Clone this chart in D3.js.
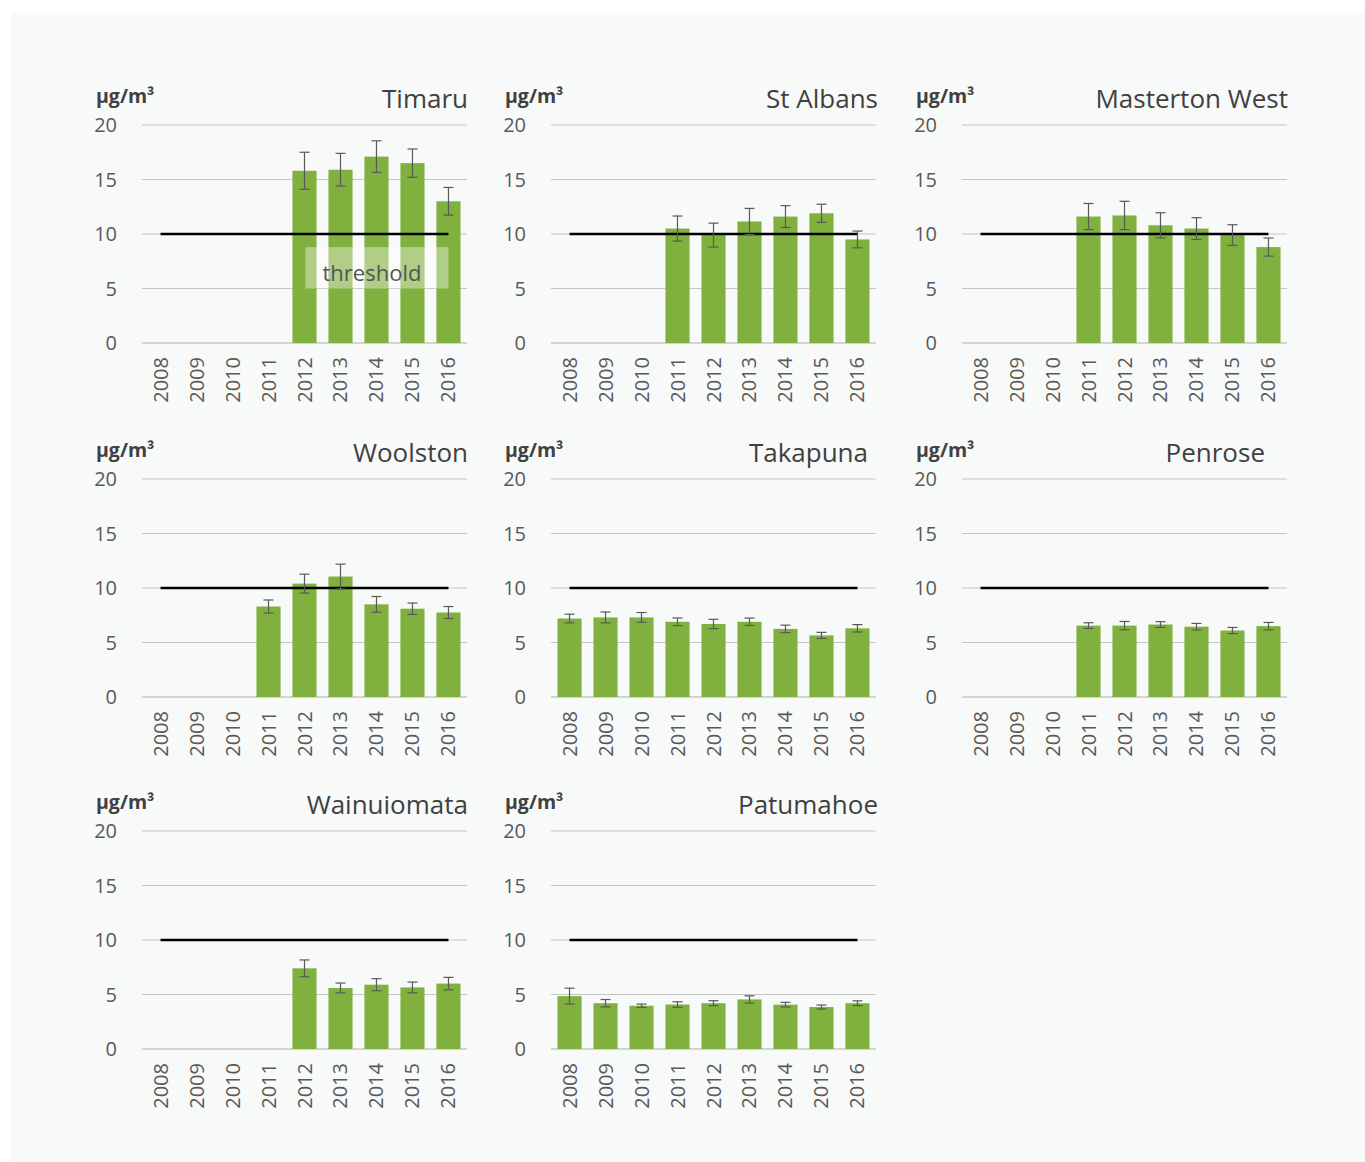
<!DOCTYPE html>
<html>
<head>
<meta charset="utf-8">
<script src="https://cdn.jsdelivr.net/npm/d3@7"></script>
<style>
  html, body { margin: 0; padding: 0; background: #ffffff; }
  svg { display: block; }
  text { font-family: "Open Sans", "Noto Sans", sans-serif; }
</style>
</head>
<body>
<svg id="chart" width="1365" height="1162"></svg>
<script>
// ---- Data ----
const years = ["2008","2009","2010","2011","2012","2013","2014","2015","2016"];
const stations = ["Timaru","St Albans","Masterton West","Woolston","Takapuna","Penrose","Wainuiomata","Patumahoe"];
const yTicks = [0, 5, 10, 15, 20];
const threshold = 10;
const unitLabel = "µg/m³";
const thresholdLabel = "threshold";

const timaruValues    = [null, null, null, null, 15.8, 15.9, 17.1, 16.5, 13.0];
const timaruErrors    = [null, null, null, null, 1.7, 1.5, 1.45, 1.3, 1.27];
const stAlbansValues  = [null, null, null, 10.5, 9.9, 11.15, 11.6, 11.9, 9.5];
const stAlbansErrors  = [null, null, null, 1.15, 1.1, 1.2, 1.0, 0.83, 0.77];
const mastertonValues = [null, null, null, 11.6, 11.7, 10.8, 10.5, 9.9, 8.8];
const mastertonErrors = [null, null, null, 1.2, 1.3, 1.15, 1.0, 0.95, 0.83];
const woolstonValues  = [null, null, null, 8.3, 10.4, 11.05, 8.5, 8.1, 7.75];
const woolstonErrors  = [null, null, null, 0.6, 0.87, 1.14, 0.72, 0.52, 0.55];
const takapunaValues  = [7.2, 7.3, 7.3, 6.9, 6.7, 6.9, 6.25, 5.65, 6.3];
const takapunaErrors  = [0.4, 0.5, 0.45, 0.35, 0.43, 0.34, 0.34, 0.28, 0.34];
const penroseValues   = [null, null, null, 6.55, 6.55, 6.65, 6.45, 6.1, 6.5];
const penroseErrors   = [null, null, null, 0.26, 0.38, 0.26, 0.3, 0.28, 0.34];
const wainuiValues    = [null, null, null, null, 7.4, 5.6, 5.9, 5.65, 6.0];
const wainuiErrors    = [null, null, null, null, 0.77, 0.45, 0.55, 0.49, 0.57];
const patumahoeValues = [4.85, 4.2, 3.97, 4.08, 4.2, 4.55, 4.07, 3.85, 4.2];
const patumahoeErrors = [0.73, 0.34, 0.15, 0.25, 0.23, 0.33, 0.21, 0.18, 0.22];

const seriesValues = [timaruValues, stAlbansValues, mastertonValues, woolstonValues, takapunaValues, penroseValues, wainuiValues, patumahoeValues];
const seriesErrors = [timaruErrors, stAlbansErrors, mastertonErrors, woolstonErrors, takapunaErrors, penroseErrors, wainuiErrors, patumahoeErrors];

// ---- Layout ----
const colLeft = [142, 551, 962];
const rowTop = [125, 479, 831];
const plotW = 325, plotH = 218;
const titleShift = [1, 2, 1, 1, -8, -22, 1, 2];
const barColor = "#80b03e";
const textDark = "#404040";
const textMid = "#595959";

const svg = d3.select("#chart");
svg.append("rect").attr("x", 11).attr("y", 13).attr("width", 1354).attr("height", 1149).attr("fill", "#f8f9f9");

stations.forEach((name, i) => {
  const col = i % 3, row = Math.floor(i / 3);
  const left = colLeft[col], top = rowTop[row];
  const g = svg.append("g");
  const x = d3.scaleBand().domain(years).range([left, left + plotW]).paddingInner(0.33).paddingOuter(0.18);
  const y = d3.scaleLinear().domain([0, 20]).range([top + plotH, top]);

  // gridlines
  g.selectAll(".grid").data(yTicks.filter(t => t > 0)).join("line")
    .attr("x1", left).attr("x2", left + plotW)
    .attr("y1", d => y(d)).attr("y2", d => y(d))
    .attr("stroke", "#c4c4c4").attr("stroke-width", 1);
  // baseline
  g.append("line").attr("x1", left).attr("x2", left + plotW)
    .attr("y1", y(0)).attr("y2", y(0))
    .attr("stroke", "#d4d4d4").attr("stroke-width", 2);

  // y tick labels
  g.selectAll(".ytick").data(yTicks).join("text")
    .attr("x", left - 25).attr("y", d => y(d))
    .attr("dy", "0.35em").attr("text-anchor", "end")
    .attr("font-size", 20).attr("fill", textMid)
    .text(d => d);

  // unit label
  g.append("text").attr("x", left - 46).attr("y", top - 22)
    .attr("font-size", 19.5).attr("font-weight", "bold").attr("fill", textDark)
    .text(unitLabel);

  // title
  g.append("text").attr("x", left + plotW + titleShift[i]).attr("y", top - 17)
    .attr("text-anchor", "end").attr("font-size", 26).attr("fill", textDark)
    .text(name);

  // x labels
  g.selectAll(".xlab").data(years).join("text")
    .attr("transform", d => `translate(${x(d) + x.bandwidth() / 2 + 7},${y(0) + 14}) rotate(-90)`)
    .attr("text-anchor", "end").attr("font-size", 20).attr("fill", textMid)
    .text(d => d);

  const data = years.map((yr, k) => ({ year: yr, v: seriesValues[i][k], e: seriesErrors[i][k] })).filter(d => d.v != null);

  // bars
  g.selectAll(".bar").data(data).join("rect")
    .attr("x", d => x(d.year)).attr("width", x.bandwidth())
    .attr("y", d => y(d.v)).attr("height", d => y(0) - y(d.v))
    .attr("fill", barColor);

  // threshold line
  g.append("line")
    .attr("x1", x(years[0]) + x.bandwidth() / 2).attr("x2", x(years[years.length - 1]) + x.bandwidth() / 2)
    .attr("y1", y(threshold)).attr("y2", y(threshold))
    .attr("stroke", "#000").attr("stroke-width", 2.5);

  // error bars
  const eb = g.selectAll(".err").data(data).join("g");
  eb.append("line")
    .attr("x1", d => x(d.year) + x.bandwidth() / 2).attr("x2", d => x(d.year) + x.bandwidth() / 2)
    .attr("y1", d => y(d.v + d.e)).attr("y2", d => y(d.v - d.e))
    .attr("stroke", "#595959").attr("stroke-width", 1.2);
  [1, -1].forEach(s => {
    eb.append("line")
      .attr("x1", d => x(d.year) + x.bandwidth() / 2 - 5).attr("x2", d => x(d.year) + x.bandwidth() / 2 + 5)
      .attr("y1", d => y(d.v + s * d.e)).attr("y2", d => y(d.v + s * d.e))
      .attr("stroke", "#595959").attr("stroke-width", 1.2);
  });

  // threshold annotation (first panel)
  if (i === 0) {
    const bx = x(years[4]) + 13, bw = x(years[8]) + x.bandwidth() / 2 - bx;
    g.append("rect").attr("x", bx).attr("y", y(8.8)).attr("width", bw).attr("height", y(5) - y(8.8))
      .attr("fill", "#ffffff").attr("fill-opacity", 0.38);
    g.append("text").attr("x", bx + bw / 2 - 5).attr("y", y(5.7))
      .attr("text-anchor", "middle").attr("font-size", 22).attr("fill", "#555555")
      .text(thresholdLabel);
  }
});
</script>
</body>
</html>
